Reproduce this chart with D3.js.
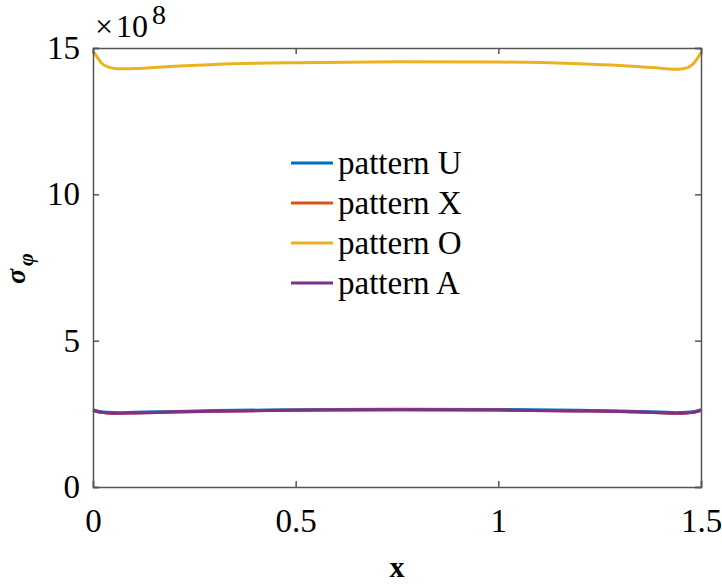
<!DOCTYPE html>
<html>
<head>
<meta charset="utf-8">
<script src="https://cdn.jsdelivr.net/npm/d3@7"></script>
<style>
  body { margin: 0; background: #fff; }
  text { font-family: "Liberation Serif", "Times New Roman", serif; fill: #000; }
</style>
</head>
<body>
<svg class="chart"></svg>
<script>
// sample positions along x
const xs = [0, 0.01, 0.02, 0.035, 0.06, 0.1, 0.2, 0.3, 0.5, 0.75, 1.0, 1.2, 1.3, 1.4, 1.44, 1.465, 1.48, 1.49, 1.5];

// series values, in units of 1e8
const patternU = [2.64, 2.60, 2.57, 2.55, 2.54, 2.55, 2.58, 2.61, 2.64, 2.66, 2.65, 2.62, 2.60, 2.56, 2.54, 2.55, 2.57, 2.60, 2.64];
const patternX = [2.62, 2.58, 2.55, 2.53, 2.52, 2.53, 2.56, 2.59, 2.62, 2.64, 2.63, 2.60, 2.58, 2.54, 2.52, 2.53, 2.55, 2.58, 2.62];
const patternO = [14.88, 14.7, 14.5, 14.36, 14.29, 14.3, 14.38, 14.44, 14.5, 14.53, 14.52, 14.46, 14.4, 14.31, 14.27, 14.32, 14.45, 14.62, 14.85];
const patternA = [2.62, 2.58, 2.55, 2.53, 2.52, 2.53, 2.56, 2.59, 2.62, 2.64, 2.63, 2.60, 2.58, 2.54, 2.52, 2.53, 2.55, 2.58, 2.62];

const names = ["pattern U", "pattern X", "pattern O", "pattern A"];
const colors = ["#0072BD", "#D95319", "#EDB120", "#7E2F8E"];

const xTicks = [0, 0.5, 1, 1.5];
const xTickLabels = ["0", "0.5", "1", "1.5"];
const yTicks = [0, 5, 10, 15];

const width = 722, height = 585;
const margin = { left: 93, right: 21, top: 48, bottom: 98 };

const x = d3.scaleLinear().domain([0, 1.5]).range([margin.left, width - margin.right]);
const y = d3.scaleLinear().domain([0, 15]).range([height - margin.bottom, margin.top]);

const chart = d3.select(".chart")
  .attr("width", width)
  .attr("height", height);

// series lines
const series = [patternU, patternX, patternO, patternA];
const line = d3.line()
  .x((d, i) => x(xs[i]))
  .y(d => y(d))
  .curve(d3.curveMonotoneX);

chart.append("g")
  .selectAll("path")
  .data(series)
  .enter()
  .append("path")
    .attr("d", d => line(d))
    .attr("fill", "none")
    .attr("stroke", (d, i) => colors[i])
    .attr("stroke-width", 3);

// axes, ticks inside like matlab
const axColor = "#555";
const tickLen = 6;

chart.append("g")
  .attr("transform", `translate(0,${y(0)})`)
  .call(d3.axisBottom(x).tickValues(xTicks).tickSize(-tickLen).tickPadding(22)
    .tickFormat((d, i) => xTickLabels[i]));
chart.append("g")
  .attr("transform", `translate(0,${y(15)})`)
  .call(d3.axisTop(x).tickValues(xTicks).tickSize(-tickLen).tickFormat(""));
chart.append("g")
  .attr("transform", `translate(${x(0)},0)`)
  .call(d3.axisLeft(y).tickValues(yTicks).tickSize(-tickLen).tickPadding(13));
chart.append("g")
  .attr("transform", `translate(${x(1.5)},0)`)
  .call(d3.axisRight(y).tickValues(yTicks).tickSize(-tickLen).tickFormat(""));

chart.selectAll(".domain, .tick line")
  .attr("stroke", axColor)
  .attr("stroke-width", 1.5);
chart.selectAll(".tick text")
  .style("font-size", "33px")
  .attr("fill", "#000");

// exponent label
const expo = chart.append("text")
  .attr("x", 95)
  .attr("y", 37)
  .style("font-size", "32px");
expo.append("tspan").text("\u00d7");
expo.append("tspan").attr("dx", 3).text("10");
expo.append("tspan").attr("dx", 4).attr("dy", -13).style("font-size", "28px").text("8");

// axis titles
chart.append("text")
  .attr("x", x(0.75))
  .attr("y", 577)
  .attr("text-anchor", "middle")
  .style("font-size", "30px")
  .attr("font-weight", "bold")
  .text("x");

const ylab = chart.append("text")
  .attr("transform", "translate(25,284) rotate(-90)")
  .style("font-size", "28px")
  .attr("font-weight", "bold")
  .attr("font-style", "italic");
ylab.append("tspan").text("\u03c3");
ylab.append("tspan").attr("dx", 3).attr("dy", 8).style("font-size", "22px").text("\u03c6");

// legend
const legend = chart.append("g")
  .selectAll("g")
  .data(names)
  .enter()
  .append("g")
    .attr("transform", (d, i) => `translate(291,${163 + i * 40})`);

legend.append("line")
  .attr("x1", 0)
  .attr("x2", 42)
  .attr("stroke", (d, i) => colors[i])
  .attr("stroke-width", 3);

legend.append("text")
  .attr("x", 47)
  .attr("dy", "0.33em")
  .style("font-size", "33px")
  .text(d => d);
</script>
</body>
</html>
